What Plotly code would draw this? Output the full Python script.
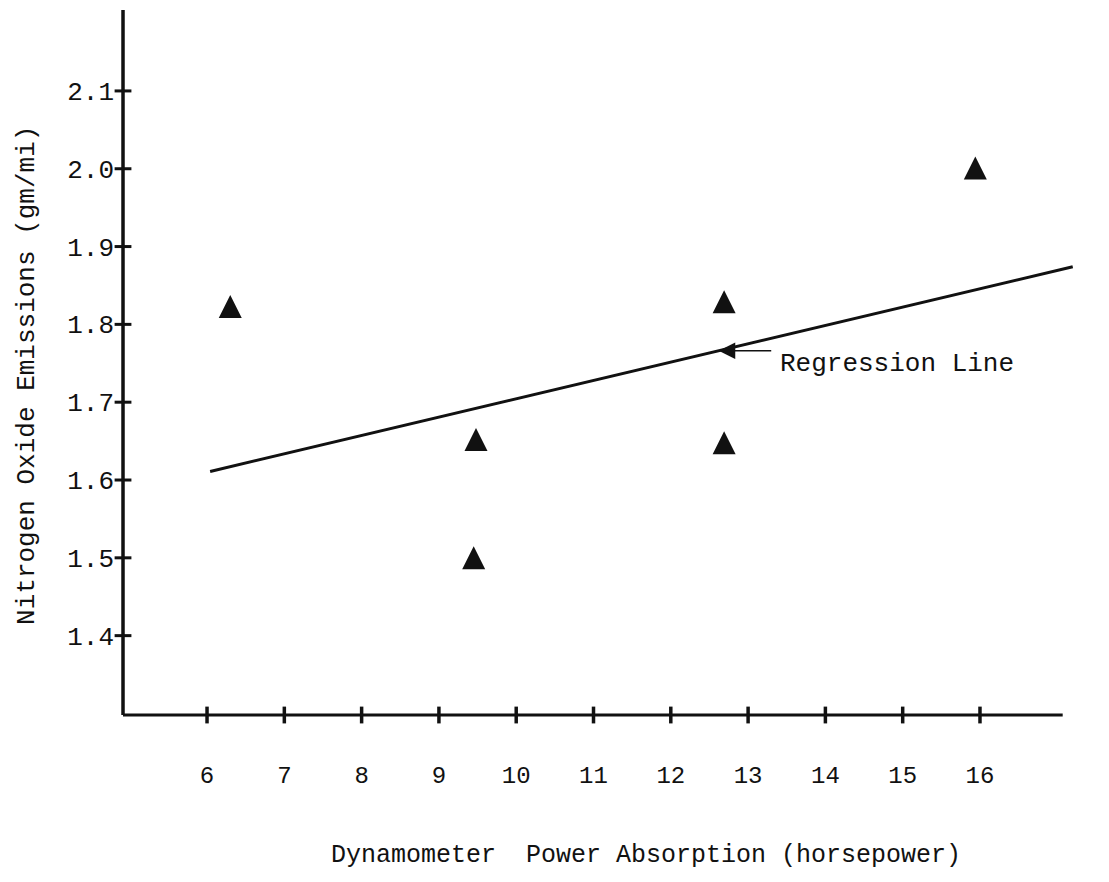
import plotly.graph_objects as go

# Observed emissions versus dynamometer load
power_hp = [6.3, 9.48, 9.45, 12.69, 12.69, 15.94]
nox_gm_mi = [1.823, 1.652, 1.50, 1.829, 1.648, 2.001]

# Endpoints of the fitted regression line
reg_x = [6.04, 17.2]
reg_y = [1.611, 1.874]

x_ticks = [6, 7, 8, 9, 10, 11, 12, 13, 14, 15, 16]
y_ticks = [1.4, 1.5, 1.6, 1.7, 1.8, 1.9, 2.0, 2.1]
y_tick_text = ["1.4", "1.5", "1.6", "1.7", "1.8", "1.9", "2.0", "2.1"]

# where the drawn axes sit, and the (slightly wider) plotting window
X_AXIS, X_AXIS_END = 4.913, 17.07
Y_AXIS, Y_TOP = 1.298, 2.204
X_MIN, X_MAX = 4.874, 17.294
Y_MIN, Y_MAX = 1.2903, 2.204

MONO = "Courier New, Courier, Liberation Mono, monospace"
INK = "#111111"

fig = go.Figure()

# regression line
fig.add_trace(go.Scatter(
    x=reg_x, y=reg_y, mode="lines",
    line=dict(color=INK, width=3), hoverinfo="skip", showlegend=False,
))

# data points as solid triangles
fig.add_trace(go.Scatter(
    x=power_hp, y=nox_gm_mi, mode="markers",
    marker=dict(symbol="arrow-down", angle=180, standoff=11.5, size=23,
                color=INK, line=dict(width=0)),
    showlegend=False, cliponaxis=False,
))

# axis lines
fig.add_shape(type="line", xref="x", yref="y", x0=X_AXIS, x1=X_AXIS_END,
              y0=Y_AXIS, y1=Y_AXIS, line=dict(color=INK, width=3))
fig.add_shape(type="line", xref="x", yref="y", x0=X_AXIS, x1=X_AXIS,
              y0=Y_AXIS, y1=Y_TOP, line=dict(color=INK, width=3.5))

# tick marks crossing the axes
fig.add_trace(go.Scatter(
    x=x_ticks, y=[Y_AXIS] * len(x_ticks), mode="markers",
    marker=dict(symbol="line-ns", size=12, line=dict(color=INK, width=3.5)),
    showlegend=False, cliponaxis=False, hoverinfo="skip",
))
fig.add_trace(go.Scatter(
    x=[X_AXIS] * len(y_ticks), y=y_ticks, mode="markers",
    marker=dict(symbol="line-ew", size=12, line=dict(color=INK, width=3)),
    showlegend=False, cliponaxis=False, hoverinfo="skip",
))

# label pointing at the regression line
fig.add_annotation(
    x=12.62, y=1.766, xref="x", yref="y", text="",
    showarrow=True, ax=54, ay=0, arrowhead=2, arrowsize=2.2,
    arrowwidth=1.5, arrowcolor=INK,
)
fig.add_annotation(
    x=13.39, y=1.749, xref="x", yref="y", text="Regression Line",
    showarrow=False, xanchor="left", yanchor="middle",
    font=dict(family=MONO, size=26, color=INK),
)

# axis titles
fig.add_annotation(
    x=-0.097, y=0.4866, xref="paper", yref="paper",
    text="Nitrogen Oxide Emissions (gm/mi)", textangle=-90,
    showarrow=False, xanchor="center", yanchor="middle",
    font=dict(family=MONO, size=26, color=INK),
)
fig.add_annotation(
    x=0.5475, y=-0.1885, xref="paper", yref="paper",
    text="Dynamometer  Power Absorption (horsepower)",
    showarrow=False, xanchor="center", yanchor="middle",
    font=dict(family=MONO, size=25, color=INK),
)

fig.update_layout(
    width=1109, height=882,
    margin=dict(l=120, r=29, t=10, b=161),
    paper_bgcolor="white", plot_bgcolor="white",
    showlegend=False,
)
fig.update_xaxes(
    range=[X_MIN, X_MAX], tickvals=x_ticks, ticks="", showgrid=False,
    zeroline=False, showline=False, ticklabelstandoff=37,
    tickfont=dict(family=MONO, size=24, color=INK),
)
fig.update_yaxes(
    range=[Y_MIN, Y_MAX], tickvals=y_ticks, ticktext=y_tick_text, ticks="",
    showgrid=False, zeroline=False, showline=False, ticklabelstandoff=5,
    tickfont=dict(family=MONO, size=26, color=INK),
)

fig.write_html("out.html")
